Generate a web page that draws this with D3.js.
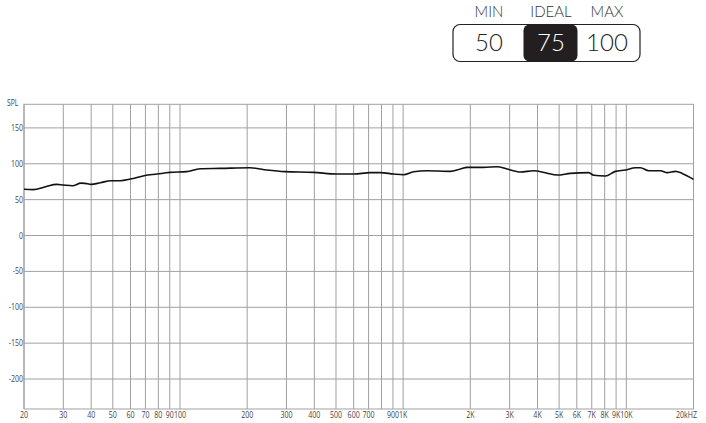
<!DOCTYPE html>
<html>
<head>
<meta charset="utf-8">
<script src="https://cdn.jsdelivr.net/npm/d3@7"></script>
<style>
  html, body { margin: 0; padding: 0; background: #fff; }
  svg { display: block; }
</style>
</head>
<body>
<svg id="chart" width="706" height="423"></svg>
<script>
// ---- data ----
const freqs = [20, 22, 25, 28, 30, 33, 36, 37.5, 40, 44, 49, 54, 60, 69, 79, 90, 107, 123, 151, 206,
  245, 296, 397, 505, 600, 712, 790, 906, 1004, 1114, 1279, 1626, 1804, 1934, 2294, 2636, 2922,
  3352, 3846, 4339, 4896, 5614, 6786, 7146, 8058, 8938, 9910, 10990, 11568, 12608, 14226, 15246,
  16600, 17790, 20000];
const spl = [64.4, 64, 68, 71.3, 70.4, 69.4, 73, 72.7, 71.3, 73.6, 76.4, 76.4, 78.7, 83.4, 85.7, 88, 89, 93.1, 93.6, 94.5,
  91.3, 89, 88, 85.7, 85.7, 87.6, 87.6, 85.7, 84.8, 89, 90.3, 89.4, 92.7, 95, 95, 95.9, 92.7,
  88.5, 90.3, 87.6, 84.3, 86.6, 87.6, 83.9, 82.9, 89.4, 91.3, 94.5, 94.5, 90.3, 90.3, 87.6,
  89.4, 86.6, 78.3];
const xTicks = [20, 30, 40, 50, 60, 70, 80, 90, 100, 200, 300, 400, 500, 600, 700, 800, 900, 1000,
  2000, 3000, 4000, 5000, 6000, 7000, 8000, 9000, 10000, 20000];
const xTickLabels = ["20", "30", "40", "50", "60", "70", "80", "90", "100", "200", "300", "400", "500", "600", "700", "", "900", "1K",
  "2K", "3K", "4K", "5K", "6K", "7K", "8K", "9K", "10K", "20kHZ"];
const yTicks = [150, 100, 50, 0, -50, -100, -150, -200];
const headerLabels = ["MIN", "IDEAL", "MAX"];
const headerValues = ["50", "75", "100"];

// ---- layout ----
const svg = d3.select("#chart");
const L = 24, R = 693.5, T = 104.3, B = 409;
const x = d3.scaleLog().domain([20, 20000]).range([L, R]);
const y = d3.scaleLinear().domain([-241.8, 182.9]).range([B, T]);
const SX = 0.8; // horizontal condensing of small labels

// grid
const g = svg.append("g");
g.selectAll("line.v").data(xTicks).join("line")
  .attr("x1", d => x(d)).attr("x2", d => x(d))
  .attr("y1", T).attr("y2", B)
  .attr("stroke", "#a0a0a0").attr("stroke-width", 1);
g.selectAll("line.h").data(yTicks).join("line")
  .attr("x1", L).attr("x2", R)
  .attr("y1", d => y(d)).attr("y2", d => y(d))
  .attr("stroke", "#a0a0a0").attr("stroke-width", 1);
g.append("rect").attr("x", L).attr("y", T).attr("width", R - L).attr("height", B - T)
  .attr("fill", "none").attr("stroke", "#a0a0a0").attr("stroke-width", 1);

// axes labels
const font = "'Open Sans', 'DejaVu Sans', sans-serif";
svg.append("g").selectAll("text").data(yTicks).join("text")
  .attr("transform", d => `translate(${L - 1},${y(d) + 3}) scale(${SX},1)`)
  .attr("text-anchor", "end")
  .attr("font-family", font).attr("font-size", 8.8).attr("fill", "#444")
  .text(d => d);
svg.append("text").attr("transform", `translate(7,${T + 1.5}) scale(${SX},1)`)
  .attr("font-family", font).attr("font-size", 8.5).attr("fill", "#444").text("SPL");

svg.append("g").selectAll("text").data(xTicks).join("text")
  .attr("transform", (d, i) => `translate(${i === xTicks.length - 1 ? x(d) + 3.5 : x(d)},${B + 8.5}) scale(${SX},1)`)
  .attr("text-anchor", (d, i) => i === xTicks.length - 1 ? "end" : "middle")
  .attr("font-family", font).attr("font-size", 8.8).attr("fill", "#444")
  .text((d, i) => xTickLabels[i]);

// curve
const line = d3.line().x(d => x(d[0])).y(d => y(d[1])).curve(d3.curveMonotoneX);
svg.append("path").datum(freqs.map((f, i) => [f, spl[i]]))
  .attr("d", line).attr("fill", "none").attr("stroke", "#111").attr("stroke-width", 1.6);

// header
const centers = [489, 551, 607];
const hfont = "'Lato', 'Open Sans', sans-serif";
svg.append("rect").attr("x", 453).attr("y", 24.5).attr("width", 187).attr("height", 37)
  .attr("rx", 7).attr("fill", "#fff").attr("stroke", "#222").attr("stroke-width", 1.2);
svg.append("rect").attr("x", 523.5).attr("y", 24.5).attr("width", 54).attr("height", 37)
  .attr("rx", 6).attr("fill", "#231f20");
svg.append("g").selectAll("text").data(headerLabels).join("text")
  .attr("x", (d, i) => centers[i]).attr("y", 17)
  .attr("text-anchor", "middle").attr("font-family", hfont).attr("font-weight", 300)
  .attr("font-size", 15).attr("fill", "#333").text(d => d);
svg.append("g").selectAll("text").data(headerValues).join("text")
  .attr("x", (d, i) => centers[i]).attr("y", 50.5)
  .attr("text-anchor", "middle").attr("font-family", hfont).attr("font-weight", 300)
  .attr("font-size", 24).attr("fill", (d, i) => i === 1 ? "#fff" : "#222").text(d => d);
</script>
</body>
</html>
